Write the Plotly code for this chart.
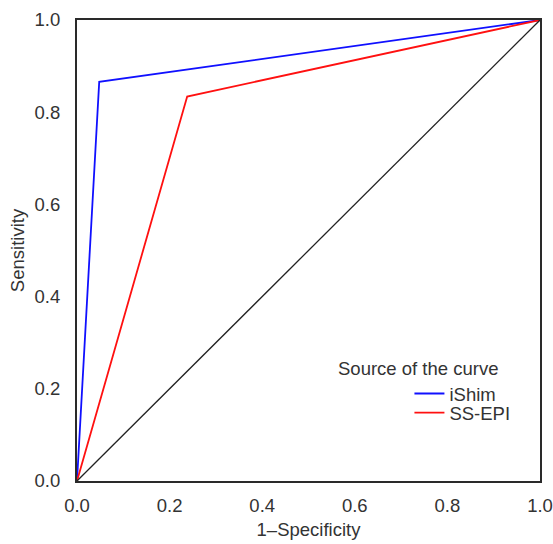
import plotly.graph_objects as go

# Data
ishim_fpr = [0.0, 0.048, 1.0]
ishim_tpr = [0.0, 0.866, 1.0]
ssepi_fpr = [0.0, 0.238, 1.0]
ssepi_tpr = [0.0, 0.834, 1.0]
ref_fpr = [0.0, 1.0]
ref_tpr = [0.0, 1.0]
tick_vals = [0.0, 0.2, 0.4, 0.6, 0.8, 1.0]
tick_text = ["0.0", "0.2", "0.4", "0.6", "0.8", "1.0"]

FONT = "Liberation Sans, Arial, Helvetica, sans-serif"
FS = 18.5
TXT = "#333333"

fig = go.Figure()
fig.add_trace(go.Scatter(x=ishim_fpr, y=ishim_tpr, mode="lines", name="iShim",
                         line=dict(color="#1010ff", width=1.8), legend="legend"))
fig.add_trace(go.Scatter(x=ssepi_fpr, y=ssepi_tpr, mode="lines", name="SS-EPI",
                         line=dict(color="#ff1010", width=1.8), legend="legend2"))
fig.add_trace(go.Scatter(x=ref_fpr, y=ref_tpr, mode="lines", showlegend=False,
                         line=dict(color="#222222", width=1.3)))

axis_common = dict(range=[0, 1], tickvals=tick_vals, ticktext=tick_text,
                   showgrid=False, zeroline=False, showline=True, mirror=True,
                   linecolor="#2a2a2a", linewidth=2, ticks="", automargin=False,
                   tickfont=dict(family=FONT, size=FS, color=TXT),
                   fixedrange=True)

legend_common = dict(xanchor="left", yanchor="top", bgcolor="rgba(0,0,0,0)",
                     font=dict(family=FONT, size=FS, color=TXT), itemwidth=30,
                     borderwidth=0)

fig.update_layout(
    width=553, height=544,
    margin=dict(l=77, r=13, t=20, b=63, autoexpand=False),
    plot_bgcolor="white", paper_bgcolor="white",
    font=dict(family=FONT, size=FS, color=TXT),
    xaxis=dict(**axis_common, title=dict(text="1–Specificity", standoff=8,
                                         font=dict(family=FONT, size=FS, color=TXT)),
               ticklabelstandoff=7),
    yaxis=dict(**axis_common, title=dict(text="Sensitivity", standoff=5,
                                         font=dict(family=FONT, size=FS, color=TXT)),
               ticklabelstandoff=11),
    legend=dict(**legend_common, x=0.718, y=0.23),
    legend2=dict(**legend_common, x=0.718, y=0.1887),
    annotations=[dict(text="Source of the curve", x=0.559, y=0.245, xref="paper", yref="paper",
                      xanchor="left", yanchor="middle", showarrow=False,
                      font=dict(family=FONT, size=FS, color=TXT))],
)

fig.write_html("out.html",
               config={"displayModeBar": False},
               post_script="document.body.style.margin='0';document.body.style.overflow='hidden';")
